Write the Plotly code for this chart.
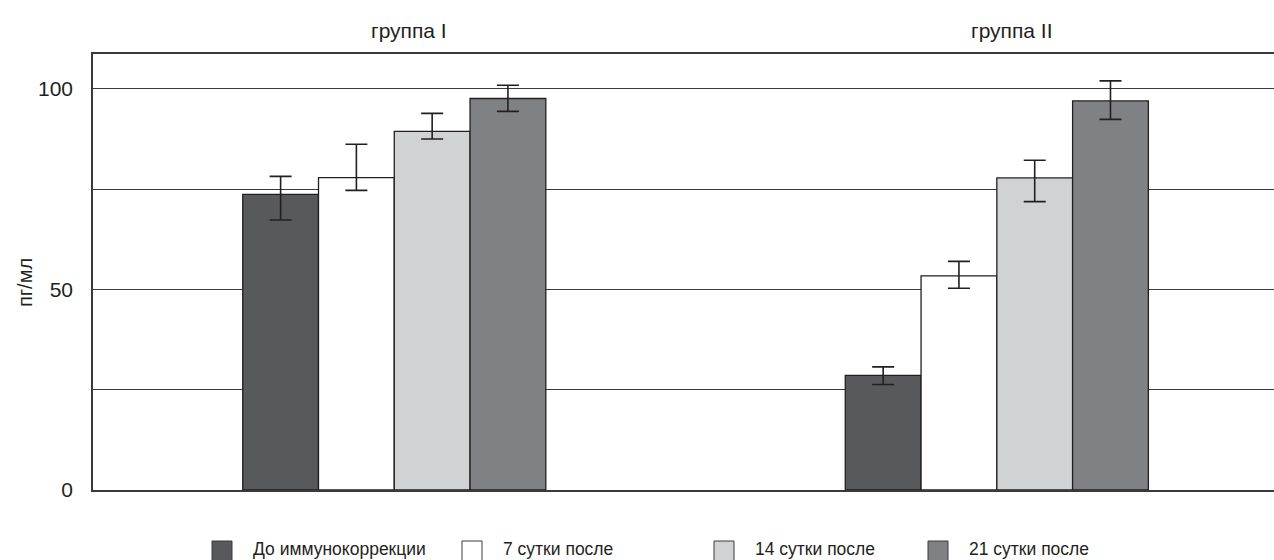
import plotly.graph_objects as go

groups = ["группа I", "группа II"]
series_names = ["До иммунокоррекции", "7 сутки после", "14 сутки после", "21 сутки после"]
colors = ["#58595b", "#ffffff", "#d1d2d4", "#808184"]

# mean values per series: [группа I, группа II]
vals_before = [73.7, 28.6]
vals_7 = [77.9, 53.4]
vals_14 = [89.4, 77.8]
vals_21 = [97.6, 97.0]
# error bar tops and bottoms
err_hi_before = [78.2, 30.7]
err_lo_before = [67.3, 26.3]
err_hi_7 = [86.2, 57.0]
err_lo_7 = [74.7, 50.3]
err_hi_14 = [93.9, 82.2]
err_lo_14 = [87.5, 71.9]
err_hi_21 = [100.9, 102.0]
err_lo_21 = [94.4, 92.4]

values = [vals_before, vals_7, vals_14, vals_21]
err_hi = [err_hi_before, err_hi_7, err_hi_14, err_hi_21]
err_lo = [err_lo_before, err_lo_7, err_lo_14, err_lo_21]

y_tickvals = [0, 25, 50, 75, 100]
y_ticktext = ["0", "", "50", "", "100"]

FONT = "Liberation Sans Narrow, Arial Narrow, Liberation Sans, Arial, sans-serif"
W, H = 1274, 560
ML, MR, MT, MB = 93, 0, 54, 70
PW, PH = W - ML - MR, H - MT - MB

fig = go.Figure()
for name, v, hi, lo, c in zip(series_names, values, err_hi, err_lo, colors):
    fig.add_trace(go.Bar(
        x=[0, 1], y=v, name=name,
        marker=dict(color=c, line=dict(color="#231f20", width=1.3)),
        error_y=dict(type="data", symmetric=False,
                     array=[h - m for h, m in zip(hi, v)],
                     arrayminus=[m - l for l, m in zip(lo, v)],
                     color="#231f20", thickness=1.6, width=11),
        showlegend=False,
    ))

def px_to_paper_x(px):
    return (px - ML) / PW

def px_to_paper_y(py):
    return (H - MB - py) / PH

shapes = []
annotations = []
# group labels
for i, g in enumerate(groups):
    annotations.append(dict(x=i + 0.025, xref="x", y=px_to_paper_y(30), yref="paper",
                            text=g, showarrow=False, xanchor="center", yanchor="middle",
                            font=dict(family=FONT, size=21, color="#231f20")))
# y title
annotations.append(dict(x=px_to_paper_x(25), xref="paper", y=px_to_paper_y(283), yref="paper",
                        text="пг/мл", textangle=-90, showarrow=False,
                        xanchor="center", yanchor="middle",
                        font=dict(family=FONT, size=20, color="#231f20")))
# manual legend
legend_x = [212, 462, 714, 928]
for lx, name, c in zip(legend_x, series_names, colors):
    shapes.append(dict(type="rect", xref="paper", yref="paper",
                       x0=px_to_paper_x(lx), x1=px_to_paper_x(lx + 20),
                       y0=px_to_paper_y(561), y1=px_to_paper_y(541),
                       fillcolor=c, line=dict(color="#3a3a3a", width=1)))
    annotations.append(dict(x=px_to_paper_x(lx + 39), xref="paper", y=px_to_paper_y(549), yref="paper",
                            text=name, showarrow=False, xanchor="left", yanchor="middle",
                            font=dict(family=FONT, size=17.5, color="#231f20")))

fig.update_layout(
    width=W, height=H,
    margin=dict(l=ML, r=MR, t=MT, b=MB),
    plot_bgcolor="white", paper_bgcolor="white",
    barmode="group", bargap=0.497, bargroupgap=0,
    font=dict(family=FONT, size=21, color="#231f20"),
    shapes=shapes, annotations=annotations,
    xaxis=dict(range=[-0.5, 1.46], showticklabels=False, showgrid=False, zeroline=False,
               showline=True, mirror=True, linecolor="#3a3a3a", linewidth=1.5, ticks=""),
    yaxis=dict(range=[0, 108.7], tickvals=y_tickvals, ticktext=y_ticktext,
               showgrid=True, gridcolor="#3a3a3a", gridwidth=1.3, zeroline=False,
               showline=True, linecolor="#3a3a3a", linewidth=1.5, ticks="",
               ticklabelstandoff=14, tickfont=dict(family=FONT, size=21, color="#231f20")),
)

fig.write_html("out.html")
